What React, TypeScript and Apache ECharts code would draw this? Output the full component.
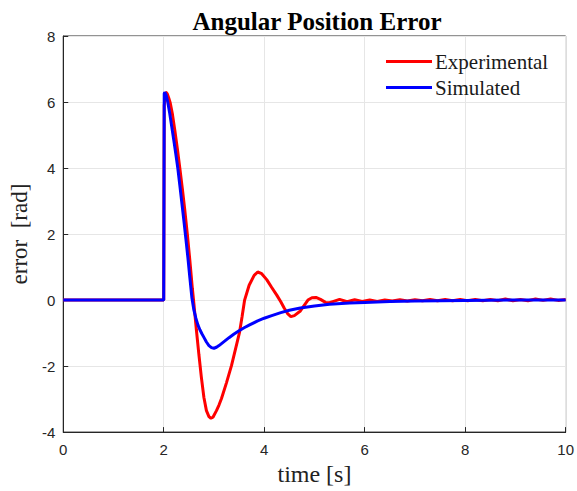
import React, { useEffect, useRef } from "react";
import * as echarts from "echarts";

const expT = [0, 2, 2.01, 2.04, 2.07, 2.1, 2.13, 2.17, 2.22, 2.27, 2.32, 2.37, 2.42, 2.47, 2.52, 2.57, 2.6, 2.65, 2.7, 2.75, 2.8, 2.85, 2.9, 2.94, 2.98, 3.05, 3.1, 3.15, 3.25, 3.35, 3.45, 3.51, 3.56, 3.61, 3.7, 3.8, 3.87, 3.95, 4.05, 4.15, 4.25, 4.33, 4.4, 4.47, 4.53, 4.6, 4.72, 4.8, 4.87, 4.95, 5.03, 5.12, 5.22, 5.3, 5.38, 5.5, 5.65, 5.8, 5.95, 6.1, 6.25, 6.4, 6.55, 6.7, 6.85, 7.0, 7.15, 7.3, 7.45, 7.6, 7.75, 7.9, 8.05, 8.2, 8.35, 8.5, 8.65, 8.8, 8.95, 9.1, 9.25, 9.4, 9.55, 9.7, 9.85, 10];
const expY = [0, 0, 5.9, 6.3, 6.25, 6.12, 5.97, 5.66, 5.15, 4.6, 4.0, 3.38, 2.72, 2.0, 1.2, 0.35, -0.1, -0.9, -1.65, -2.35, -2.95, -3.35, -3.53, -3.58, -3.55, -3.35, -3.18, -2.98, -2.5, -1.98, -1.35, -0.97, -0.5, 0.0, 0.45, 0.75, 0.85, 0.8, 0.62, 0.38, 0.15, -0.05, -0.25, -0.42, -0.5, -0.47, -0.33, -0.15, 0.0, 0.07, 0.08, 0.02, -0.07, -0.08, -0.04, 0.02, -0.05, 0.01, -0.04, 0.0, -0.04, 0.0, -0.03, 0.01, -0.03, 0.01, -0.02, 0.02, -0.02, 0.02, -0.02, 0.02, -0.02, 0.02, -0.02, 0.02, -0.02, 0.03, -0.02, 0.02, -0.02, 0.03, -0.01, 0.03, -0.01, 0.02];

const simT = [0, 2, 2.01, 2.02, 2.05, 2.08, 2.12, 2.16, 2.2, 2.24, 2.28, 2.32, 2.36, 2.4, 2.44, 2.48, 2.52, 2.56, 2.6, 2.64, 2.68, 2.72, 2.76, 2.8, 2.85, 2.9, 2.95, 3.0, 3.05, 3.1, 3.2, 3.3, 3.4, 3.5, 3.6, 3.7, 3.87, 4.0, 4.15, 4.33, 4.5, 4.72, 5.0, 5.3, 5.7, 6.0, 6.5, 7.0, 7.5, 8.0, 9.0, 10];
const simY = [0, 0, 6.25, 6.3, 6.2, 6.0, 5.65, 5.25, 4.85, 4.43, 4.0, 3.48, 2.95, 2.42, 1.87, 1.3, 0.68, 0.08, -0.3, -0.55, -0.75, -0.9, -1.02, -1.13, -1.27, -1.38, -1.44, -1.46, -1.43, -1.38, -1.26, -1.14, -1.03, -0.93, -0.84, -0.76, -0.63, -0.55, -0.47, -0.38, -0.31, -0.24, -0.18, -0.13, -0.09, -0.07, -0.045, -0.03, -0.02, -0.01, 0, 0];

const seriesNames = ["Experimental", "Simulated"];
const titleText = "Angular Position Error";
const xLabel = "time [s]";
const yLabel = "error  [rad]";

export default function App() {
  const ref = useRef<HTMLDivElement>(null);
  useEffect(() => {
    if (!ref.current) return;
    const chart = echarts.init(ref.current, null, { renderer: "svg" });
    const zip = (a: number[], b: number[]) => a.map((t, i) => [t, b[i]]);
    const serif = "Liberation Serif";
    const sans = "Liberation Sans";
    chart.setOption({
      animation: false,
      backgroundColor: "#ffffff",
      title: {
        text: titleText,
        left: 312,
        textAlign: "center",
        top: 4,
        textStyle: { fontFamily: serif, fontWeight: "bold", fontSize: 25, color: "#000" },
      },
      legend: {
        orient: "vertical",
        left: 381,
        top: 46,
        itemWidth: 46,
        itemHeight: 3,
        itemGap: 5,
        icon: "rect",
        textStyle: { fontFamily: serif, fontSize: 21, color: "#1a1a1a", padding: [0, 0, 0, -2] },
        data: seriesNames,
      },
      grid: {
        left: 60,
        right: 9,
        top: 36,
        bottom: 57,
        show: true,
        borderColor: "#262626",
        borderWidth: 1,
        backgroundColor: "#fff",
      },
      xAxis: {
        type: "value",
        min: 0,
        max: 10,
        interval: 2,
        name: xLabel,
        nameLocation: "middle",
        nameGap: 27,
        nameTextStyle: { fontFamily: serif, fontSize: 24, color: "#222" },
        axisLine: { show: true, onZero: false, lineStyle: { color: "#262626" } },
        axisTick: { show: true, inside: true, length: 5, lineStyle: { color: "#262626" } },
        axisLabel: { fontFamily: sans, fontSize: 15, color: "#262626", margin: 10 },
        splitLine: { show: true, lineStyle: { color: "#e6e6e6", width: 1 } },
      },
      yAxis: {
        type: "value",
        min: -4,
        max: 8,
        interval: 2,
        name: yLabel,
        nameLocation: "middle",
        nameGap: 32,
        nameTextStyle: { fontFamily: serif, fontSize: 23, color: "#222" },
        axisLine: { show: true, onZero: false, lineStyle: { color: "#262626" } },
        axisTick: { show: true, inside: true, length: 5, lineStyle: { color: "#262626" } },
        axisLabel: { fontFamily: sans, fontSize: 15, color: "#262626", margin: 8 },
        splitLine: { show: true, lineStyle: { color: "#e6e6e6", width: 1 } },
      },
      series: [
        {
          name: seriesNames[0],
          type: "line",
          data: zip(expT, expY),
          showSymbol: false,
          symbol: "none",
          lineStyle: { color: "#ff0000", width: 3 },
          itemStyle: { color: "#ff0000" },
          z: 2,
        },
        {
          name: seriesNames[1],
          type: "line",
          data: zip(simT, simY),
          showSymbol: false,
          symbol: "none",
          lineStyle: { color: "#0000ff", width: 3 },
          itemStyle: { color: "#0000ff" },
          z: 3,
        },
      ],
    });
    return () => chart.dispose();
  }, []);
  return (
    <div
      ref={ref}
      style={{ position: "absolute", left: 0, top: 0, width: 577, height: 491, background: "#fff" }}
    />
  );
}
